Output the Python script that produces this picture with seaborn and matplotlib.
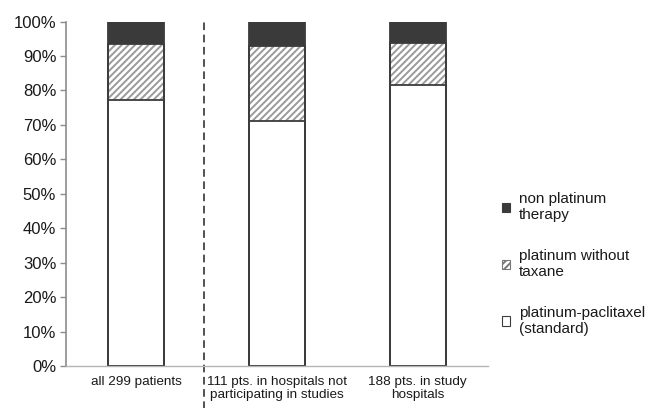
import matplotlib
matplotlib.use("Agg")
import matplotlib.pyplot as plt
import matplotlib.transforms as mtransforms
from matplotlib.patches import Patch
import seaborn as sns

# values (percent of patients)
groups = [
    "all 299 patients",
    "111 pts. in hospitals not\nparticipating in studies",
    "188 pts. in study\nhospitals",
]
standard = [77.3, 71.2, 81.5]
no_taxane = [16.1, 21.6, 12.2]
non_platinum = [6.6, 7.2, 6.3]
yticks = [0, 10, 20, 30, 40, 50, 60, 70, 80, 90, 100]

sns.set_style("white")
plt.rcParams["font.family"] = ["Liberation Sans", "DejaVu Sans"]
plt.rcParams["hatch.linewidth"] = 1.4

edge = "#3c3c3c"
dark = "#3a3a3a"
hatch_gray = "#9a9a9a"

top_mid = [s + t for s, t in zip(standard, no_taxane)]
totals = [a + b for a, b in zip(top_mid, non_platinum)]

fig = plt.figure(figsize=(6.5, 4.08), dpi=100)
ax = fig.add_axes([0.1015, 0.103, 0.6495, 0.844])

# layered bars: full height dark, then hatched, then white standard on top
sns.barplot(x=groups, y=totals, color=dark, saturation=1, width=0.4,
            linewidth=0, ax=ax)
sns.barplot(x=groups, y=top_mid, color="white", saturation=1, width=0.4,
            edgecolor=hatch_gray, linewidth=0, hatch="/////", ax=ax)
sns.barplot(x=groups, y=standard, color="white", saturation=1, width=0.4,
            linewidth=0, ax=ax)
# outlines
for vals in (totals, top_mid, standard):
    sns.barplot(x=groups, y=vals, fill=False, width=0.4, edgecolor=edge,
                linewidth=1.3, ax=ax)

ax.set_xlim(-0.5, 2.5)
ax.set_ylim(0, 100)
ax.set_yticks(yticks)
ax.set_yticklabels([f"{v}%" for v in yticks])
ax.set_xlabel("")
ax.set_ylabel("")

for s in ("top", "right"):
    ax.spines[s].set_visible(False)
ax.spines["left"].set_color("#8c8c8c")
ax.spines["left"].set_linewidth(1.2)
ax.spines["bottom"].set_color("#b5b5b5")
ax.spines["bottom"].set_linewidth(1.0)

ax.tick_params(axis="y", left=True, length=4, width=1, color="#8c8c8c",
               labelsize=12, labelcolor="#1a1a1a", pad=3)
ax.tick_params(axis="x", bottom=False, length=0, labelsize=9.7,
               labelcolor="#1a1a1a", pad=7)

# dashed separator between overall and subgroups
trans = mtransforms.blended_transform_factory(ax.transData, ax.transAxes)
ax.plot([0.48, 0.48], [-0.13, 1.005], transform=trans, clip_on=False,
        color="#222222", linewidth=1.1, dashes=(5, 3))

handles = [
    Patch(facecolor=dark, edgecolor=edge, linewidth=0.8),
    Patch(facecolor="white", edgecolor="#777777", linewidth=0.8, hatch="/////"),
    Patch(facecolor="white", edgecolor=edge, linewidth=0.8),
]
labels = ["non platinum\ntherapy", "platinum without\ntaxane",
          "platinum-paclitaxel\n(standard)"]
fig.legend(handles, labels, loc="upper left",
           bbox_to_anchor=(502 / 650, 1 - 192 / 408), frameon=False,
           fontsize=11, handlelength=0.55, handleheight=0.55,
           handletextpad=0.55, labelspacing=1.75, borderpad=0,
           borderaxespad=0, labelcolor="#1a1a1a")

fig.savefig("out.png", dpi=100)
